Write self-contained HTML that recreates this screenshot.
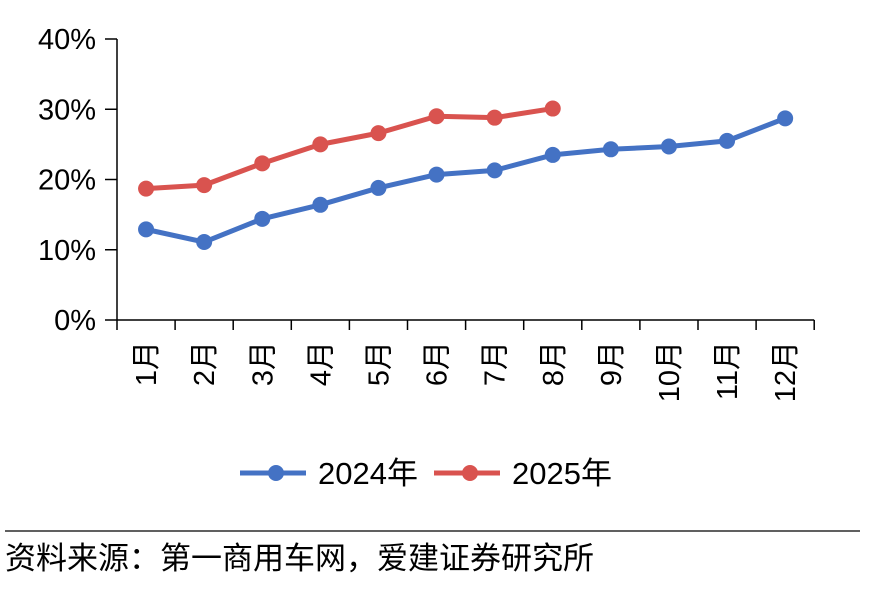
<!DOCTYPE html>
<html><head><meta charset="utf-8"><style>
body{margin:0;background:#fff;}
svg text{font-family:"Liberation Sans","Noto Sans CJK SC",sans-serif;fill:#000;}
</style></head><body>
<svg width="873" height="585" id="c"></svg>
<script>
const categories=["1月","2月","3月","4月","5月","6月","7月","8月","9月","10月","11月","12月"];
const series2024=[12.9,11.1,14.4,16.4,18.8,20.7,21.3,23.5,24.3,24.7,25.5,28.7];
const series2025=[18.7,19.2,22.3,25.0,26.6,29.0,28.8,30.1];
const yTicks=[0,10,20,30,40];
const yTickLabels=["0%","10%","20%","30%","40%"];
const svg=document.getElementById('c');
const NS="http://www.w3.org/2000/svg";
const x0=117,step=58.1,y0=320,yk=7.025;
function xs(i){return x0+step*(i+0.5);}
function ys(v){return y0-v*yk;}
function el(t,a,p){const e=document.createElementNS(NS,t);for(const k in a)e.setAttribute(k,a[k]);(p||svg).appendChild(e);return e;}
let e;
e=el('line',{x1:x0,y1:ys(40),x2:x0,y2:y0,stroke:'#000','stroke-width':1.5});


e=el('line',{x1:x0,y1:y0,x2:x0+step*12,y2:y0,stroke:'#000','stroke-width':1.5});


yTicks.forEach((v,i)=>{
 el('line',{x1:105,y1:ys(v),x2:x0,y2:ys(v),stroke:'#000','stroke-width':1.5});
 const t=el('text',{x:96,y:ys(v)+10,'text-anchor':'end','font-size':29});
 t.textContent=yTickLabels[i];
 
 
});
for(let i=0;i<=12;i++)el('line',{x1:x0+step*i,y1:y0,x2:x0+step*i,y2:y0+10,stroke:'#000','stroke-width':1.5});
categories.forEach((c,i)=>{
 const t=el('text',{x:0,y:0,'text-anchor':'end','font-size':29,transform:`translate(${xs(i)+10},341) rotate(-90)`});
 t.textContent=c;
 
 
});
function draw(data,color,name){
 const g=el('g',{});
 
 
 el('polyline',{points:data.map((v,i)=>xs(i)+','+ys(v)).join(' '),fill:'none',stroke:color,'stroke-width':5,'stroke-linejoin':'round'},g);
 data.forEach((v,i)=>{const p=el('circle',{cx:xs(i),cy:ys(v),r:8,fill:color},g);
 
 });
}
draw(series2024,'#4472C4','series-2024');
draw(series2025,'#D9534F','series-2025');
function legend(x,color,label,name){
 const g=el('g',{});
 
 
 el('line',{x1:x,y1:473,x2:x+66,y2:473,stroke:color,'stroke-width':5},g);
 el('circle',{cx:x+36,cy:473,r:8,fill:color},g);
 const t=el('text',{x:x+78,y:484,'font-size':31},g);t.textContent=label;
}
legend(240,'#4472C4','2024年','legend-2024');
legend(434,'#D9534F','2025年','legend-2025');
e=el('line',{x1:5,y1:531,x2:860,y2:531,stroke:'#000','stroke-width':1.2});


e=el('text',{x:5,y:569,'font-size':31});
e.textContent='资料来源：第一商用车网，爱建证券研究所';


</script>
</body></html>
